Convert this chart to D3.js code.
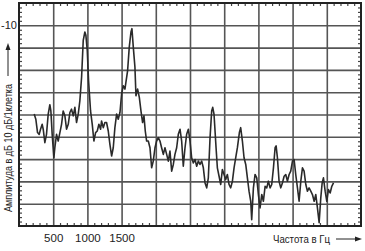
<!DOCTYPE html>
<html>
<head>
<meta charset="utf-8">
<script src="https://cdnjs.cloudflare.com/ajax/libs/d3/7.8.5/d3.min.js"></script>
<style>
  body { margin: 0; background: #fff; }
  text { font-family: "Liberation Sans", Arial, sans-serif; fill: #222; }
</style>
</head>
<body>
<div id="chart"></div>
<script>
// spectrum trace: frequency (Hz) and amplitude (dB)
const freq = [222,246,271,295,315,339,354,378,402,427,451,466,485,510,524,549,573,598,622,646,
  671,695,720,744,768,793,817,841,866,890,915,939,963,978,998,1017,1046,1071,1095,1120,
  1144,1168,1193,1207,1232,1256,1280,1305,1329,1354,1378,1402,1427,1451,1476,1500,1524,1549,1563,1588,
  1612,1637,1651,1671,1695,1710,1734,1759,1783,1807,1827,1846,1866,1890,1915,1939,1963,1988,2012,2037,
  2061,2085,2110,2134,2159,2183,2207,2232,2256,2280,2305,2329,2354,2378,2402,2427,2451,2476,2500,2524,
  2549,2573,2598,2622,2646,2671,2695,2720,2744,2768,2793,2817,2832,2851,2881,2900,2925,2949,2973,2998,
  3022,3046,3071,3095,3120,3144,3168,3193,3222,3241,3266,3290,3315,3339,3363,3388,3402,3427,3451,3476,
  3500,3524,3549,3573,3598,3622,3646,3671,3695,3720,3744,3759,3778,3802,3827,3851,3876,3900,3924,3949,
  3973,3998,4022,4046,4071,4095,4120,4144,4168,4193,4217,4241,4266,4290,4315,4339,4363,4388,4412,4432,
  4451,4476,4500,4524,4549,4573,4598];
const amplitude = [-49.8,-52.1,-58.1,-58.9,-56.6,-54.4,-56.6,-62.6,-58.9,-49.8,-45.6,-48.4,-58.9,-69.4,-64.9,-58.9,-61.9,-58.1,-54.4,-48.4,
  -50.6,-56.6,-54.4,-49.1,-47.6,-50.6,-46.8,-53.6,-49.8,-43.8,-33.3,-16.8,-13.0,-14.5,-21.3,-34.8,-48.4,-54.4,-61.9,-58.1,
  -57.4,-54.4,-56.6,-52.9,-55.9,-53.6,-53.6,-57.4,-63.4,-68.6,-64.9,-55.9,-49.8,-52.1,-49.1,-40.8,-37.1,-38.6,-35.6,-30.3,
  -19.8,-13.0,-11.5,-19.8,-28.8,-41.6,-38.6,-42.3,-48.4,-53.6,-50.6,-57.4,-61.9,-61.9,-64.9,-73.9,-70.9,-64.9,-61.9,-60.4,
  -61.9,-64.9,-67.9,-64.9,-67.9,-70.9,-66.4,-75.4,-72.4,-67.9,-64.9,-58.9,-56.6,-61.9,-73.2,-64.9,-58.9,-56.6,-61.9,-69.4,
  -71.7,-70.2,-73.2,-70.9,-72.4,-70.9,-73.9,-80.7,-82.9,-78.4,-60.4,-48.4,-46.8,-49.8,-64.9,-73.9,-77.7,-81.4,-74.7,-76.9,
  -79.2,-76.9,-81.4,-82.9,-79.9,-73.9,-69.4,-64.9,-58.1,-55.9,-61.9,-69.4,-72.4,-78.4,-84.4,-88.9,-97.2,-82.9,-76.9,-78.4,
  -85.9,-91.9,-85.9,-88.9,-82.2,-82.9,-79.9,-82.9,-81.4,-73.9,-64.9,-64.1,-69.4,-79.9,-82.9,-80.7,-77.7,-76.9,-79.9,-76.9,
  -75.4,-70.9,-70.2,-76.9,-82.9,-88.9,-79.9,-73.9,-75.4,-81.4,-84.4,-82.9,-84.4,-85.9,-88.9,-85.9,-91.9,-98.5,-87.4,-80.7,
  -78.4,-84.4,-88.9,-83.7,-85.2,-82.2,-80.7];

const xGrid = [500,1000,1500,2000,2500,3000,3500,4000,4500];
const yGrid = [-10,-20,-30,-40,-50,-60,-70,-80,-90];
const xLabels = [500,1000,1500];
const yLabels = [-10];

const w = 365, h = 251;
const padL = 19, padR = 361, padT = 3, padB = 226;

const svg = d3.select('#chart').append('svg')
  .attr('width', w).attr('height', h)
  .style('background-color', '#fff');

const xScale = d3.scaleLinear().domain([0, 5000]).range([padL, padR]);
const yScale = d3.scaleLinear().domain([-100, 0]).range([padB, padT]);

// major grid
svg.append('g')
  .attr('transform', 'translate(0,' + padB + ')')
  .call(d3.axisBottom(xScale).tickValues(xGrid).tickSize(-(padB - padT)).tickFormat(''))
  .call(g => g.select('.domain').remove())
  .selectAll('line').attr('stroke', '#555').attr('stroke-width', 1.6);

svg.append('g')
  .attr('transform', 'translate(' + padL + ',0)')
  .call(d3.axisLeft(yScale).tickValues(yGrid).tickSize(-(padR - padL)).tickFormat(''))
  .call(g => g.select('.domain').remove())
  .selectAll('line').attr('stroke', '#555').attr('stroke-width', 1.6);

// minor ticks on all four sides
const xMinor = d3.range(100, 5000, 100).filter(v => v % 500 !== 0);
const yMinor = d3.range(-98, 0, 2).filter(v => v % 10 !== 0);

const minor = [
  [d3.axisBottom(xScale).tickValues(xMinor).tickSize(-3), 'translate(0,' + padB + ')'],
  [d3.axisTop(xScale).tickValues(xMinor).tickSize(-3), 'translate(0,' + padT + ')'],
  [d3.axisLeft(yScale).tickValues(yMinor).tickSize(-3), 'translate(' + padL + ',0)'],
  [d3.axisRight(yScale).tickValues(yMinor).tickSize(-3), 'translate(' + padR + ',0)']
];
minor.forEach(([ax, tr]) => {
  svg.append('g').attr('transform', tr)
    .call(ax.tickFormat(''))
    .call(g => g.select('.domain').remove())
    .selectAll('line').attr('stroke', '#444').attr('stroke-width', 1.2);
});

// frame
svg.append('rect')
  .attr('x', padL).attr('y', padT)
  .attr('width', padR - padL).attr('height', padB - padT)
  .attr('fill', 'none').attr('stroke', '#222').attr('stroke-width', 2);

// trace
const line = d3.line()
  .x((d, i) => xScale(freq[i]))
  .y(d => yScale(d));

svg.append('path')
  .datum(amplitude)
  .attr('d', line)
  .attr('fill', 'none')
  .attr('stroke', '#2a2a2a')
  .attr('stroke-width', 1.6)
  .attr('stroke-linejoin', 'round');

// tick labels
svg.append('g')
  .attr('transform', 'translate(0,' + padB + ')')
  .call(d3.axisBottom(xScale).tickValues(xLabels).tickSize(0).tickPadding(8).tickFormat(d => String(d)))
  .call(g => g.select('.domain').remove())
  .selectAll('text').style('font-size', '11.5px').attr('fill', '#222');

svg.append('g')
  .attr('transform', 'translate(' + padL + ',0)')
  .call(d3.axisLeft(yScale).tickValues(yLabels).tickSize(0).tickPadding(2).tickFormat(d => String(d)))
  .call(g => g.select('.domain').remove())
  .selectAll('text').style('font-size', '11px').attr('fill', '#222');

// axis titles with arrows
svg.append('text')
  .attr('x', 273).attr('y', 243)
  .attr('textLength', 57).attr('lengthAdjust', 'spacingAndGlyphs')
  .style('font-size', '11.5px')
  .text('Частота в Гц');

svg.append('line')
  .attr('x1', 336).attr('y1', 239).attr('x2', 358).attr('y2', 239)
  .attr('stroke', '#222').attr('stroke-width', 1);
svg.append('path')
  .attr('d', 'M362,239 L355,236.5 L355,241.5 Z')
  .attr('fill', '#222');

svg.append('text')
  .attr('transform', 'translate(12,212) rotate(-90)')
  .attr('textLength', 128).attr('lengthAdjust', 'spacingAndGlyphs')
  .style('font-size', '11.5px')
  .text('Амплитуда в дБ 10 дБ/1клетка');

svg.append('line')
  .attr('x1', 8).attr('y1', 76).attr('x2', 8).attr('y2', 48)
  .attr('stroke', '#222').attr('stroke-width', 1);
svg.append('path')
  .attr('d', 'M8,43 L5.5,50 L10.5,50 Z')
  .attr('fill', '#222');
</script>
</body>
</html>
